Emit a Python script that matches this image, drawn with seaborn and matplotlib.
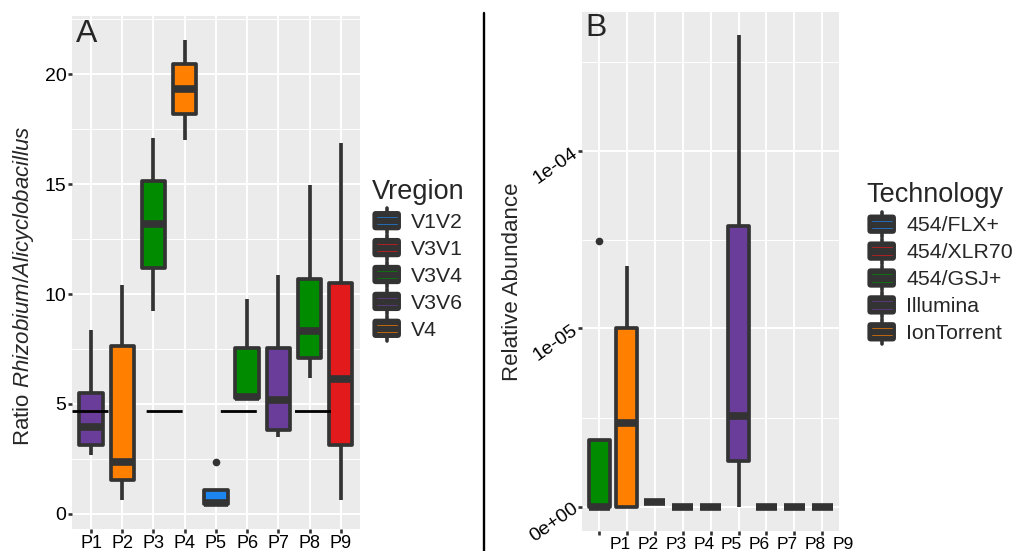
import numpy as np
import pandas as pd
import matplotlib
matplotlib.use("Agg")
import matplotlib.pyplot as plt
import matplotlib.transforms as mtransforms
from matplotlib.legend_handler import HandlerBase
from matplotlib.patches import FancyBboxPatch, Patch
from matplotlib.lines import Line2D
from matplotlib.ticker import FixedLocator
import seaborn as sns

# ---------------- data : panel A ----------------
samples_a = ["P1", "P2", "P3", "P4", "P5", "P6", "P7", "P8", "P9"]
vregion_a = ["V3V6", "V4", "V3V4", "V4", "V1V2", "V3V4", "V3V6", "V3V4", "V3V1"]
min_a = [2.67, 0.62, 9.21, 17.02, 0.40, 5.16, 3.51, 6.20, 0.62]
q1_a = [3.11, 1.55, 11.17, 18.17, 0.45, 5.27, 3.80, 7.08, 3.13]
median_a = [3.94, 2.38, 13.17, 19.31, 0.50, 5.30, 5.16, 8.32, 6.15]
q3_a = [5.51, 7.64, 15.14, 20.46, 1.07, 7.56, 7.53, 10.69, 10.48]
max_a = [8.37, 10.41, 17.10, 21.58, 2.38, 9.77, 10.85, 14.98, 16.89]
reference_ratio = 4.68
vregion_levels = ["V1V2", "V3V1", "V3V4", "V3V6", "V4"]
vregion_colors = ["#1C86EE", "#E31A1C", "#008B00", "#6A3D9A", "#FF7F00"]
yticks_a = [0, 5, 10, 15, 20]

# ---------------- data : panel B ----------------
samples_b = ["P1", "P2", "P3", "P4", "P5", "P6", "P7", "P8", "P9"]
technology_b = ["454/GSJ+", "IonTorrent", "454/FLX+", "454/XLR70", "454/FLX+",
                "Illumina", "454/XLR70", "454/FLX+", "454/XLR70"]
min_b = [0, 0, 1.2e-7, 0, 0, 0, 0, 0, 0]
q1_b = [0, 0, 1.2e-7, 0, 0, 1.27e-6, 0, 0, 0]
median_b = [0, 2.64e-6, 1.2e-7, 0, 0, 2.92e-6, 0, 0, 0]
q3_b = [1.95e-6, 1.0e-5, 1.2e-7, 0, 0, 3.79e-5, 0, 0, 0]
max_b = [3.12e-5, 2.25e-5, 1.2e-7, 0, 0, 4.52e-4, 0, 0, 0]
tech_levels = ["454/FLX+", "454/XLR70", "454/GSJ+", "Illumina", "IonTorrent"]
tech_colors = ["#1C86EE", "#E31A1C", "#008B00", "#6A3D9A", "#FF7F00"]
yticks_b = [0, 1e-5, 1e-4]
yticklabels_b = ["0e+00", "1e-05", "1e-04"]


def five_number_frame(samples, groups, mins, q1s, meds, q3s, maxs, gname, vname):
    rows = []
    for s, g, a, b, c, d, e in zip(samples, groups, mins, q1s, meds, q3s, maxs):
        for v in (a, b, c, d, e):
            rows.append({"Sample": s, gname: g, vname: v})
    return pd.DataFrame(rows)


df_a = five_number_frame(samples_a, vregion_a, min_a, q1_a, median_a, q3_a, max_a,
                         "Vregion", "Ratio")
df_b = five_number_frame(samples_b, technology_b, min_b, q1_b, median_b, q3_b, max_b,
                         "Technology", "Abundance")

# ---------------- style ----------------
DARK = "#333333"
sns.set_theme(style="darkgrid", rc={
    "axes.facecolor": "#EBEBEB",
    "grid.color": "white",
    "xtick.bottom": True, "ytick.left": True,
    "xtick.color": DARK, "ytick.color": DARK,
    "xtick.labelcolor": "black", "ytick.labelcolor": "black",
    "xtick.major.size": 2.8, "ytick.major.size": 2.8,
    "xtick.major.width": 1.9, "ytick.major.width": 1.9,
    "xtick.major.pad": 1.5, "ytick.major.pad": 1.5,
})
plt.rcParams["font.family"] = ["Liberation Sans", "DejaVu Sans"]
plt.rcParams["mathtext.fontset"] = "custom"
plt.rcParams["mathtext.rm"] = "Liberation Sans"
plt.rcParams["mathtext.it"] = "Liberation Sans:italic"

W, H = 1016, 551
fig = plt.figure(figsize=(W / 100, H / 100), dpi=100)


def fx(px):
    return px / W


def fy(py):
    return 1 - py / H


axA = fig.add_axes([fx(72.3), fy(529.0), fx(359.5) - fx(72.3), fy(16.0) - fy(529.0)])
axB = fig.add_axes([fx(582.3), fy(531.0), fx(839.0) - fx(582.3), fy(12.0) - fy(531.0)])

box_kw = dict(dodge=False, width=0.75, saturation=1, linecolor=DARK, linewidth=2.66,
              showcaps=False, fliersize=4.5, legend=False,
              flierprops={"marker": "o", "markerfacecolor": DARK, "markeredgecolor": DARK},
              medianprops={"linewidth": 5.5, "solid_capstyle": "butt"},
              boxprops={"joinstyle": "round"})

sns.boxplot(data=df_a, x="Sample", y="Ratio", hue="Vregion", order=samples_a,
            hue_order=vregion_levels, palette=dict(zip(vregion_levels, vregion_colors)),
            whis=1.5, ax=axA, **box_kw)
# whisker reach wide enough that only the first group's extreme point is an outlier
sns.boxplot(data=df_b, x="Sample", y="Abundance", hue="Technology", order=samples_b,
            hue_order=tech_levels, palette=dict(zip(tech_levels, tech_colors)),
            whis=12, ax=axB, **box_kw)

# ---------------- panel A axes ----------------
lw_dash = 2.0
axA.axhline(reference_ratio, color="black", lw=lw_dash,
            dashes=(25.9 / lw_dash, 27.5 / lw_dash), zorder=6)
axA.set_xlim(-0.6, 8.6)
axA.set_ylim(-0.69, 22.65)
axA.yaxis.set_major_locator(FixedLocator(yticks_a))
axA.yaxis.set_minor_locator(FixedLocator(np.arange(2.5, 25, 5)))
axA.set_xlabel("")
axA.set_ylabel("")
axA.tick_params(axis="y", labelsize=14)
axA.tick_params(axis="x", labelsize=13)

# ---------------- panel B axes ----------------
LW = 2e-6
axB.set_yscale("asinh", linear_width=LW)
axB.set_xlim(-0.6, 8.6)
axB.set_ylim(-6.3e-7, 6.07e-4)
axB.yaxis.set_major_locator(FixedLocator(yticks_b))
axB.set_yticklabels(yticklabels_b)
tb = np.arcsinh(np.array([0, 1e-5, 1e-4, 1e-3]) / LW)
axB.yaxis.set_minor_locator(FixedLocator(LW * np.sinh((tb[:-1] + tb[1:]) / 2)))
axB.set_xlabel("")
axB.set_ylabel("")
axB.tick_params(axis="y", labelsize=14)
axB.tick_params(axis="x", labelsize=12.5)
for lab in axB.get_yticklabels():
    lab.set_rotation(35)
    lab.set_rotation_mode("anchor")
    lab.set_ha("right")
    lab.set_va("center")
shift = mtransforms.ScaledTranslation(0.21, 0.0, fig.dpi_scale_trans)
for lab in axB.get_xticklabels():
    lab.set_transform(lab.get_transform() + shift)

for ax in (axA, axB):
    ax.set_axisbelow(True)
    ax.grid(True, which="major", axis="both", color="white", lw=1.4)
    ax.grid(True, which="minor", axis="y", color="white", lw=0.7)
    ax.tick_params(which="minor", length=0)
    for sp in ax.spines.values():
        sp.set_visible(False)

# ---------------- texts ----------------
fig.text(fx(23.3), fy(286), r"Ratio $\mathit{Rhizobium/Alicyclobacillus}$", rotation=90,
         ha="center", va="center", fontsize=16)
fig.text(fx(512), fy(282), "Relative Abundance", rotation=90, ha="center", va="center",
         fontsize=16)
fig.text(fx(76), fy(41.7), "A", fontsize=23, ha="left", va="baseline")
fig.text(fx(585.5), fy(36), "B", fontsize=23, ha="left", va="baseline")

fig.add_artist(Line2D([fx(483.5), fx(483.5)], [fy(13.4), fy(551)], color="black", lw=1.7,
                      transform=fig.transFigure))


# ---------------- legends ----------------
class BoxKey(HandlerBase):
    def create_artists(self, legend, orig_handle, xdescent, ydescent, width, height,
                       fontsize, trans):
        col = orig_handle.get_facecolor()
        x0, y0 = -xdescent, -ydescent
        bh = 13.9
        by = y0 + (height - bh) / 2
        box = FancyBboxPatch((x0 + 0.5, by), width - 1, bh,
                             boxstyle="round,pad=0,rounding_size=2.5",
                             fc=DARK, ec="none", transform=trans)
        arts = [box]
        for f in (0.31, 0.69):
            arts.append(Line2D([x0 + 0.17 * width, x0 + 0.83 * width], [by + f * bh] * 2,
                               color=col, lw=0.6, alpha=0.8, transform=trans))
        cx = x0 + width / 2
        arts.append(Line2D([cx, cx], [by + bh - 1, by + bh + 2.0], color=DARK, lw=2.6,
                           solid_capstyle="round", transform=trans))
        arts.append(Line2D([cx, cx], [by + 1, by - 2.0], color=DARK, lw=2.6,
                           solid_capstyle="round", transform=trans))
        return arts


leg_kw = dict(loc="upper left", frameon=False, borderpad=0, borderaxespad=0,
              title_fontsize=19.5, fontsize=15.3, handlelength=1.41, handleheight=1.11,
              labelspacing=0.255, handletextpad=0.45, alignment="left",
              handler_map={Patch: BoxKey()})
fig.legend(handles=[Patch(facecolor=c, label=l) for l, c in zip(vregion_levels, vregion_colors)],
           title="Vregion", bbox_to_anchor=(fx(371.7), fy(179.0)), **leg_kw)
fig.legend(handles=[Patch(facecolor=c, label=l) for l, c in zip(tech_levels, tech_colors)],
           title="Technology", bbox_to_anchor=(fx(866.7), fy(182.5)), **leg_kw)

fig.savefig("out.png", dpi=100)
